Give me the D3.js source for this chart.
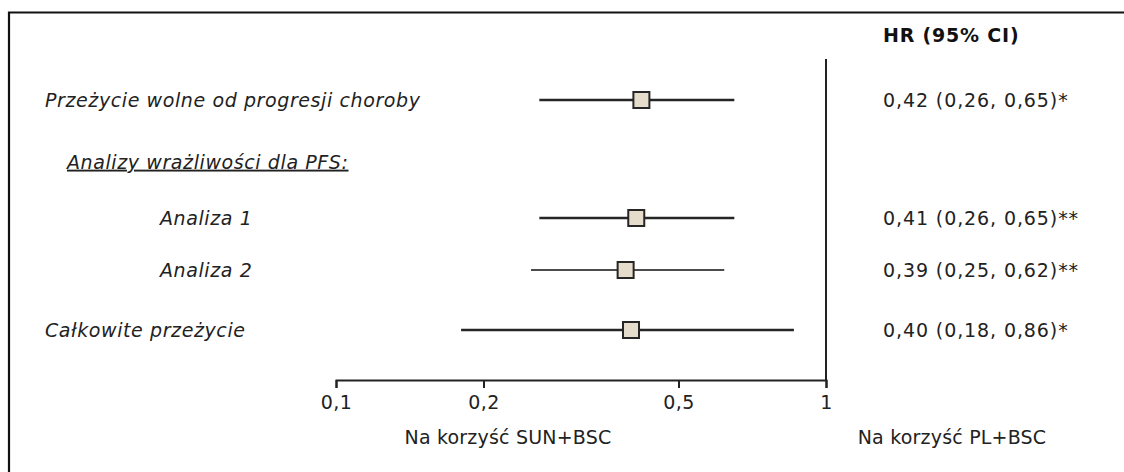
<!DOCTYPE html>
<html>
<head>
<meta charset="utf-8">
<script src="https://cdn.jsdelivr.net/npm/d3@7"></script>
<style>
  html, body { margin: 0; padding: 0; background: #fff; }
  svg { display: block; font-family: "DejaVu Sans", Verdana, sans-serif; }
</style>
</head>
<body>
<svg id="chart" width="1124" height="472"></svg>
<script>
// Study rows of the forest plot
const labels = [
  "Przeżycie wolne od progresji choroby",
  "Analiza 1",
  "Analiza 2",
  "Całkowite przeżycie"
];
const hr    = [0.42, 0.41, 0.39, 0.40];
const lower = [0.26, 0.26, 0.25, 0.18];
const upper = [0.65, 0.65, 0.62, 0.86];
const flags = ["*", "**", "**", "*"];
const indent = [false, true, true, false];
const thinLine = [false, false, true, false];

const subheading = "Analizy wrażliwości dla PFS:";
const columnTitle = "HR (95% CI)";
const tickValues = [0.1, 0.2, 0.5, 1];
const favourLeft = "Na korzyść SUN+BSC";
const favourRight = "Na korzyść PL+BSC";

const svg = d3.select("#chart");
const ink = "#222";

// Frame: top and left border
svg.append("path")
  .attr("d", "M9,472 V12.5 H1124")
  .attr("fill", "none")
  .attr("stroke", "#111")
  .attr("stroke-width", 2.2);

const x = d3.scaleLog().domain([0.1, 1]).range([336, 826]);
const rowY = [100, 218, 270, 330];
const headY = 162;
const axisY = 380;

const fmt = v => d3.format(".2f")(v).replace(".", ",");

// Axis
const axis = d3.axisBottom(x)
  .tickValues(tickValues)
  .tickFormat(v => String(v).replace(".", ","))
  .tickSize(8)
  .tickSizeOuter(8)
  .tickPadding(8);

const gAxis = svg.append("g")
  .attr("transform", `translate(0,${axisY})`)
  .call(axis);
gAxis.select(".domain").attr("stroke", ink).attr("stroke-width", 2);
gAxis.selectAll(".tick line").attr("stroke", ink).attr("stroke-width", 2);
gAxis.selectAll(".tick text")
  .attr("fill", ink)
  .style("font-family", "'DejaVu Sans', Verdana, sans-serif")
  .style("font-size", "19px")
  .style("letter-spacing", "0.4px");

// Line of no effect
svg.append("line")
  .attr("x1", x(1)).attr("x2", x(1))
  .attr("y1", 59).attr("y2", axisY)
  .attr("stroke", ink)
  .attr("stroke-width", 2);

// Row labels
svg.append("g").selectAll("text")
  .data(labels)
  .join("text")
  .attr("x", (d, i) => indent[i] ? 160 : 45)
  .attr("y", (d, i) => rowY[i])
  .attr("dy", "0.35em")
  .attr("fill", ink)
  .style("font-size", "19px")
  .style("letter-spacing", "0.6px")
  .style("font-style", "italic")
  .text(d => d);

svg.append("text")
  .attr("x", 67)
  .attr("y", headY)
  .attr("dy", "0.35em")
  .attr("fill", ink)
  .style("font-size", "19px")
  .style("letter-spacing", "0.6px")
  .style("font-style", "italic")
  .style("text-decoration", "underline")
  .text(subheading);

// Confidence intervals
svg.append("g").selectAll("line")
  .data(hr)
  .join("line")
  .attr("x1", (d, i) => x(lower[i]))
  .attr("x2", (d, i) => x(upper[i]))
  .attr("y1", (d, i) => rowY[i])
  .attr("y2", (d, i) => rowY[i])
  .attr("stroke", (d, i) => thinLine[i] ? "#111" : "#262626")
  .attr("stroke-width", (d, i) => thinLine[i] ? 1.3 : 2.4);

// Point estimates
const box = 16;
svg.append("g").selectAll("rect")
  .data(hr)
  .join("rect")
  .attr("x", d => x(d) - box / 2)
  .attr("y", (d, i) => rowY[i] - box / 2)
  .attr("width", box)
  .attr("height", box)
  .attr("fill", "#e6dccb")
  .attr("stroke", "#262626")
  .attr("stroke-width", 2);

// HR column
svg.append("text")
  .attr("x", 883)
  .attr("y", 35)
  .attr("dy", "0.35em")
  .attr("fill", "#111")
  .style("font-size", "19px")
  .style("letter-spacing", "0.8px")
  .style("font-weight", "bold")
  .text(columnTitle);

svg.append("g").selectAll("text")
  .data(hr)
  .join("text")
  .attr("x", 883)
  .attr("y", (d, i) => rowY[i])
  .attr("dy", "0.35em")
  .attr("fill", ink)
  .style("font-size", "19px")
  .style("letter-spacing", "0.9px")
  .text((d, i) => `${fmt(d)} (${fmt(lower[i])}, ${fmt(upper[i])})${flags[i]}`);

// Favour labels
svg.append("text")
  .attr("x", 508).attr("y", 437)
  .attr("dy", "0.35em")
  .attr("text-anchor", "middle")
  .attr("fill", ink)
  .style("font-size", "19px")
  .style("letter-spacing", "0.2px")
  .text(favourLeft);

svg.append("text")
  .attr("x", 952).attr("y", 437)
  .attr("dy", "0.35em")
  .attr("text-anchor", "middle")
  .attr("fill", ink)
  .style("font-size", "19px")
  .style("letter-spacing", "0.2px")
  .text(favourRight);
</script>
</body>
</html>
